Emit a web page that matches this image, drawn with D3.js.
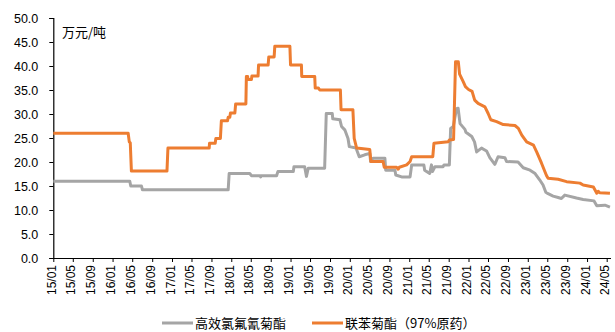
<!DOCTYPE html>
<html>
<head>
<meta charset="utf-8">
<script src="https://cdn.jsdelivr.net/npm/d3@7"></script>
<style>
  html, body { margin: 0; padding: 0; background: #fff; }
  svg text { font-family: "Liberation Sans", Arial, "Noto Sans CJK SC", sans-serif; fill: #000; }
  .cjk { font-family: "Noto Sans CJK SC", "Liberation Sans", sans-serif; }
</style>
</head>
<body>
<svg id="chart" width="615" height="332"></svg>
<script>
// Price series, 万元/吨, as [date, value] points
const seriesNames = ["高效氯氟氰菊酯", "联苯菊酯（97%原药）"];
const seriesColors = ["#A5A5A5", "#ED7D31"];
const unitLabel = "万元/吨";
const yTicks = [0, 5, 10, 15, 20, 25, 30, 35, 40, 45, 50];

const lambdaCyhalothrin = [
  ["2015-01-01", 16.0], ["2016-04-16", 16.0], ["2016-04-22", 15.0], ["2016-06-27", 15.0],
  ["2016-07-03", 14.2], ["2017-12-13", 14.2], ["2017-12-19", 17.6], ["2018-04-25", 17.6],
  ["2018-05-05", 17.15], ["2018-06-28", 17.15], ["2018-07-01", 16.9], ["2018-07-04", 17.15],
  ["2018-10-07", 17.15], ["2018-10-15", 18.0], ["2019-01-18", 18.0], ["2019-01-22", 19.0],
  ["2019-03-29", 19.0], ["2019-04-09", 17.0], ["2019-04-20", 18.7], ["2019-07-30", 18.7],
  ["2019-08-09", 30.1], ["2019-09-15", 30.1], ["2019-09-18", 29.0], ["2019-11-01", 28.8],
  ["2019-11-11", 27.4], ["2019-12-01", 26.7], ["2019-12-21", 24.9], ["2019-12-29", 23.2],
  ["2020-02-08", 22.9], ["2020-02-28", 21.1], ["2020-04-02", 21.5], ["2020-05-03", 21.8],
  ["2020-05-08", 20.1], ["2020-05-23", 20.8], ["2020-08-04", 20.8], ["2020-08-09", 18.3],
  ["2020-10-05", 18.3], ["2020-10-10", 17.3], ["2020-11-15", 16.9], ["2021-01-06", 16.9],
  ["2021-01-16", 19.4], ["2021-04-01", 19.4], ["2021-04-06", 18.3], ["2021-05-07", 17.6],
  ["2021-05-18", 19.4], ["2021-05-24", 18.0], ["2021-06-08", 19.0], ["2021-07-28", 19.0],
  ["2021-08-03", 19.4], ["2021-09-05", 19.4], ["2021-09-13", 27.0], ["2021-09-29", 27.4],
  ["2021-10-19", 31.1], ["2021-10-29", 31.2], ["2021-11-10", 28.0], ["2021-12-10", 26.8],
  ["2021-12-16", 26.2], ["2022-01-21", 25.3], ["2022-02-07", 24.2], ["2022-02-20", 22.1],
  ["2022-03-22", 22.9], ["2022-04-22", 22.3], ["2022-05-12", 20.9], ["2022-06-12", 19.5],
  ["2022-07-02", 21.1], ["2022-08-13", 20.9], ["2022-08-23", 20.1], ["2022-11-02", 20.0],
  ["2022-12-04", 18.8], ["2023-01-15", 18.3], ["2023-02-15", 17.6], ["2023-03-15", 16.3],
  ["2023-04-05", 15.2], ["2023-04-22", 13.7], ["2023-05-06", 13.4], ["2023-06-06", 12.9],
  ["2023-07-07", 12.6], ["2023-07-27", 12.4], ["2023-08-17", 13.1], ["2023-10-28", 12.5],
  ["2023-12-08", 12.2], ["2024-02-13", 11.9], ["2024-03-01", 10.9], ["2024-04-20", 11.0],
  ["2024-05-21", 10.6]
];

const bifenthrin = [
  ["2015-01-01", 26.0], ["2016-04-06", 26.0], ["2016-04-13", 24.2], ["2016-04-19", 24.0],
  ["2016-04-26", 18.1], ["2016-12-01", 18.1], ["2016-12-07", 22.9], ["2017-08-18", 22.9],
  ["2017-08-20", 23.9], ["2017-09-24", 23.9], ["2017-09-28", 24.9], ["2017-10-26", 24.9],
  ["2017-11-01", 28.6], ["2017-12-09", 28.6], ["2017-12-13", 29.3], ["2017-12-23", 29.3],
  ["2017-12-27", 30.2], ["2018-01-23", 30.2], ["2018-01-28", 32.1], ["2018-04-01", 32.1],
  ["2018-04-04", 37.8], ["2018-04-12", 37.8], ["2018-04-14", 37.2], ["2018-05-05", 37.2],
  ["2018-05-08", 37.9], ["2018-06-15", 37.9], ["2018-06-18", 40.2], ["2018-08-16", 40.2],
  ["2018-08-20", 41.9], ["2018-09-22", 41.9], ["2018-09-26", 44.1], ["2018-12-28", 44.1],
  ["2019-01-01", 40.2], ["2019-03-09", 40.2], ["2019-03-11", 37.8], ["2019-05-30", 37.8],
  ["2019-06-02", 35.4], ["2019-06-22", 35.4], ["2019-06-30", 35.0], ["2019-11-04", 35.0],
  ["2019-11-08", 30.9], ["2020-01-20", 30.9], ["2020-01-28", 24.9], ["2020-02-12", 22.9],
  ["2020-05-03", 22.6], ["2020-05-10", 20.1], ["2020-07-24", 20.1], ["2020-07-31", 18.9],
  ["2020-10-15", 18.9], ["2020-10-25", 18.5], ["2020-11-01", 18.9], ["2020-12-16", 19.4],
  ["2021-01-06", 20.1], ["2021-01-16", 21.1], ["2021-05-26", 21.1], ["2021-06-02", 23.9],
  ["2021-08-29", 24.2], ["2021-09-05", 24.6], ["2021-10-01", 24.7], ["2021-10-13", 40.9],
  ["2021-10-30", 40.9], ["2021-11-07", 38.3], ["2021-11-30", 36.7], ["2021-12-13", 35.7],
  ["2022-01-01", 35.1], ["2022-01-23", 34.7], ["2022-02-08", 32.9], ["2022-03-01", 32.2],
  ["2022-04-12", 31.5], ["2022-05-02", 30.1], ["2022-05-18", 28.8], ["2022-06-23", 28.4],
  ["2022-08-03", 27.8], ["2022-10-14", 27.6], ["2022-11-04", 27.0], ["2022-11-25", 25.6],
  ["2022-12-25", 24.2], ["2023-02-05", 23.5], ["2023-02-26", 22.0], ["2023-03-26", 19.8],
  ["2023-04-26", 17.2], ["2023-05-06", 16.6], ["2023-07-07", 16.4], ["2023-08-28", 15.9],
  ["2023-11-18", 15.6], ["2023-12-08", 15.2], ["2024-02-09", 14.8], ["2024-03-01", 13.5],
  ["2024-03-10", 13.9], ["2024-03-19", 13.6], ["2024-05-21", 13.5]
];

const parse = d3.timeParse("%Y-%m-%d");
const series = [lambdaCyhalothrin, bifenthrin].map(s => s.map(([d, v]) => ({ date: parse(d), value: v })));

const svg = d3.select("#chart");
const plotLeft = 53.3, plotRight = 606.7, plotTop = 18, plotBottom = 258;

const x = d3.scaleTime()
  .domain([parse("2015-01-01"), parse("2024-05-01")])
  .range([plotLeft, plotRight]);
const y = d3.scaleLinear().domain([0, 50]).range([plotBottom, plotTop]);

// Y axis
const yAxis = svg.append("g")
  .attr("transform", `translate(${plotLeft},0)`)
  .call(d3.axisLeft(y).tickValues(yTicks).tickFormat(d3.format(".1f")).tickSize(4).tickPadding(11));
yAxis.select(".domain").attr("stroke", "#000").attr("stroke-width", 1.2);
yAxis.selectAll(".tick line").attr("stroke", "#000");
yAxis.selectAll(".tick text").style("font-size", "12.5px");

// X axis with a tick every four months
const xTicks = d3.timeMonth.every(4).range(parse("2015-01-01"), parse("2024-05-02"));
const xAxis = svg.append("g")
  .attr("transform", `translate(0,${plotBottom})`)
  .call(d3.axisBottom(x).tickValues(xTicks).tickFormat(d3.timeFormat("%y/%m")).tickSize(4).tickSizeOuter(0));
xAxis.select(".domain").attr("d", `M${plotLeft},0.5H611`).attr("stroke", "#000").attr("stroke-width", 1.2);
xAxis.selectAll(".tick line").attr("stroke", "#000");
xAxis.selectAll(".tick text")
  .style("font-size", "12px")
  .attr("text-anchor", "end")
  .attr("dy", null)
  .attr("y", 0)
  .attr("transform", "translate(2,7) rotate(-90)");

// Lines
const line = d3.line().x(d => x(d.date)).y(d => y(d.value));
series.forEach((s, i) => {
  svg.append("path")
    .datum(s)
    .attr("fill", "none")
    .attr("stroke", seriesColors[i])
    .attr("stroke-width", 3)
    .attr("stroke-linejoin", "round")
    .attr("d", line);
});

// Unit label
svg.append("text").attr("class", "cjk")
  .attr("x", 62).attr("y", 37)
  .style("font-size", "13px")
  .text(unitLabel);

// Legend
const legendItems = [{ x: 162, tx: 195 }, { x: 312, tx: 345 }];
legendItems.forEach((p, i) => {
  svg.append("line")
    .attr("x1", p.x).attr("x2", p.x + 31)
    .attr("y1", 323).attr("y2", 323)
    .attr("stroke", seriesColors[i]).attr("stroke-width", 3);
  svg.append("text").attr("class", "cjk")
    .attr("x", p.tx).attr("y", 328)
    .style("font-size", "13px")
    .text(seriesNames[i]);
});
</script>
</body>
</html>
